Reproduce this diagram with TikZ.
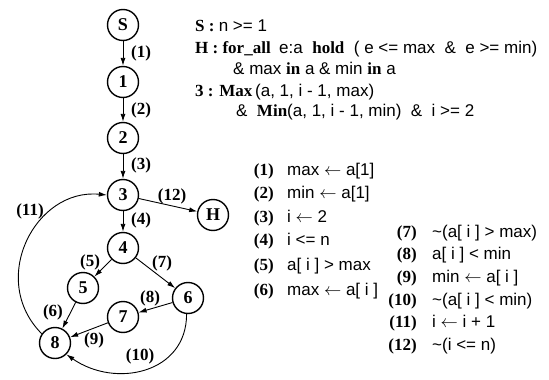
\documentclass[tikz,border=0pt]{standalone}
\usepackage{fontspec}
\setmainfont{Liberation Serif}
\newfontfamily\hv{Liberation Sans}
\usetikzlibrary{arrows.meta}
\newcommand\bs[1]{{\rmfamily\bfseries #1}}
\newcommand\asg{ $\leftarrow$ }
\begin{document}
\begin{tikzpicture}[x=1pt,y=-1pt,
  st/.style={circle, draw, line width=1.4pt, minimum size=31pt, inner sep=0pt, font=\fontsize{18}{18}\selectfont\bfseries},
  arr/.style={line width=0.9pt, -{Latex[length=8pt,width=5pt]}},
  lbl/.style={font=\fontsize{17}{17}\selectfont\bfseries, inner sep=0pt},
  txt/.style={anchor=base west, inner sep=0pt, font=\fontsize{17}{17}\selectfont},
  num/.style={anchor=base east, inner sep=0pt, font=\fontsize{17}{17}\selectfont\bfseries},
  cond/.style={anchor=base west, inner sep=0pt, font=\fontsize{17}{17}\selectfont\hv}]
\useasboundingbox (0,0) rectangle (549,380);
% states
\node[st] (nS) at (123,25) {S};
\node[st] (n1) at (123,82) {1};
\node[st] (n2) at (123,138) {2};
\node[st] (n3) at (123,195) {3};
\node[st] (nH) at (213,215) {H};
\node[st] (n4) at (123,248) {4};
\node[st] (n5) at (83,288) {5};
\node[st] (n6) at (188,298) {6};
\node[st] (n7) at (123,317) {7};
\node[st] (n8) at (55,343) {8};
% edges
\draw[arr] (nS) -- (n1);
\draw[arr] (n1) -- (n2);
\draw[arr] (n2) -- (n3);
\draw[arr] (n3) -- (nH);
\draw[arr] (n3) -- (n4);
\draw[arr] (n4) -- (n5);
\draw[arr] (n4) -- (n6);
\draw[arr] (n6) -- (n7);
\draw[arr] (n5) -- (n8);
\draw[arr] (n7) -- (n8);
\draw[arr] (n8.145) .. controls (-12,280) and (35,188) .. (n3.west);
\draw[arr] (n6.265) to[out=270,in=-35,looseness=1.2] (n8.-45);
% edge labels
\node[lbl] (l1) at (141,53) {(1)};
\node[lbl] (l2) at (141,110) {(2)};
\node[lbl] (l3) at (141,165) {(3)};
\node[lbl] (l12) at (172,196) {(12)};
\node[lbl] (l11) at (30,211) {(11)};
\node[lbl] (l4) at (141,220) {(4)};
\node[lbl] (l5) at (90,262) {(5)};
\node[lbl] (l7) at (162,263) {(7)};
\node[lbl] (l8) at (150,298) {(8)};
\node[lbl] (l6) at (53,312) {(6)};
\node[lbl] (l9) at (94,340) {(9)};
\node[lbl] (l10) at (140,356) {(10)};
% assertions
\node[txt] (t1) at (195,31) {\bs{S :} \hv n >= 1};
\node[txt] (t2) at (195,53) {\bs{H : for\_all}\ \ \hv e:a\ \ \bs{hold}\ \ ( e <= max\ \ \&\ \ e >= min)};
\node[txt] (t3) at (233,74) {\hv \& max \bs{in} a \& min \bs{in} a};
\node[txt] (t4) at (195,96) {\bs{3 : Max}\,\hv (a, 1, i - 1, max)};
\node[txt] (t5) at (236,116) {\hv \&\ \ \bs{Min}(a, 1, i - 1, min)\ \ \&\ \ i >= 2};
% legend left
\node[num] (d1) at (274,175) {(1)};
\node[cond] (e1) at (287,175) {max\asg a[1]};
\node[num] (d2) at (274,198) {(2)};
\node[cond] (e2) at (287,198) {min\asg a[1]};
\node[num] (d3) at (274,222) {(3)};
\node[cond] (e3) at (287,222) {i\asg 2};
\node[num] (d4) at (274,245) {(4)};
\node[cond] (e4) at (287,245) {i <= n};
\node[num] (d5) at (274,270) {(5)};
\node[cond] (e5) at (287,270) {a[ i ] > max};
\node[num] (d6) at (274,295) {(6)};
\node[cond] (e6) at (287,295) {max\asg a[ i ]};
% legend right
\node[num] (d7) at (417,237) {(7)};
\node[cond] (e7) at (432,237) {\textasciitilde(a[ i ] > max)};
\node[num] (d8) at (417,259) {(8)};
\node[cond] (e8) at (432,259) {a[ i ] < min};
\node[num] (d9) at (417,282) {(9)};
\node[cond] (e9) at (432,282) {min\asg a[ i ]};
\node[num] (d10) at (417,305) {(10)};
\node[cond] (e10) at (432,305) {\textasciitilde(a[ i ] < min)};
\node[num] (d11) at (417,327) {(11)};
\node[cond] (e11) at (432,327) {i\asg i + 1};
\node[num] (d12) at (417,350) {(12)};
\node[cond] (e12) at (432,350) {\textasciitilde(i <= n)};
\end{tikzpicture}
\end{document}
